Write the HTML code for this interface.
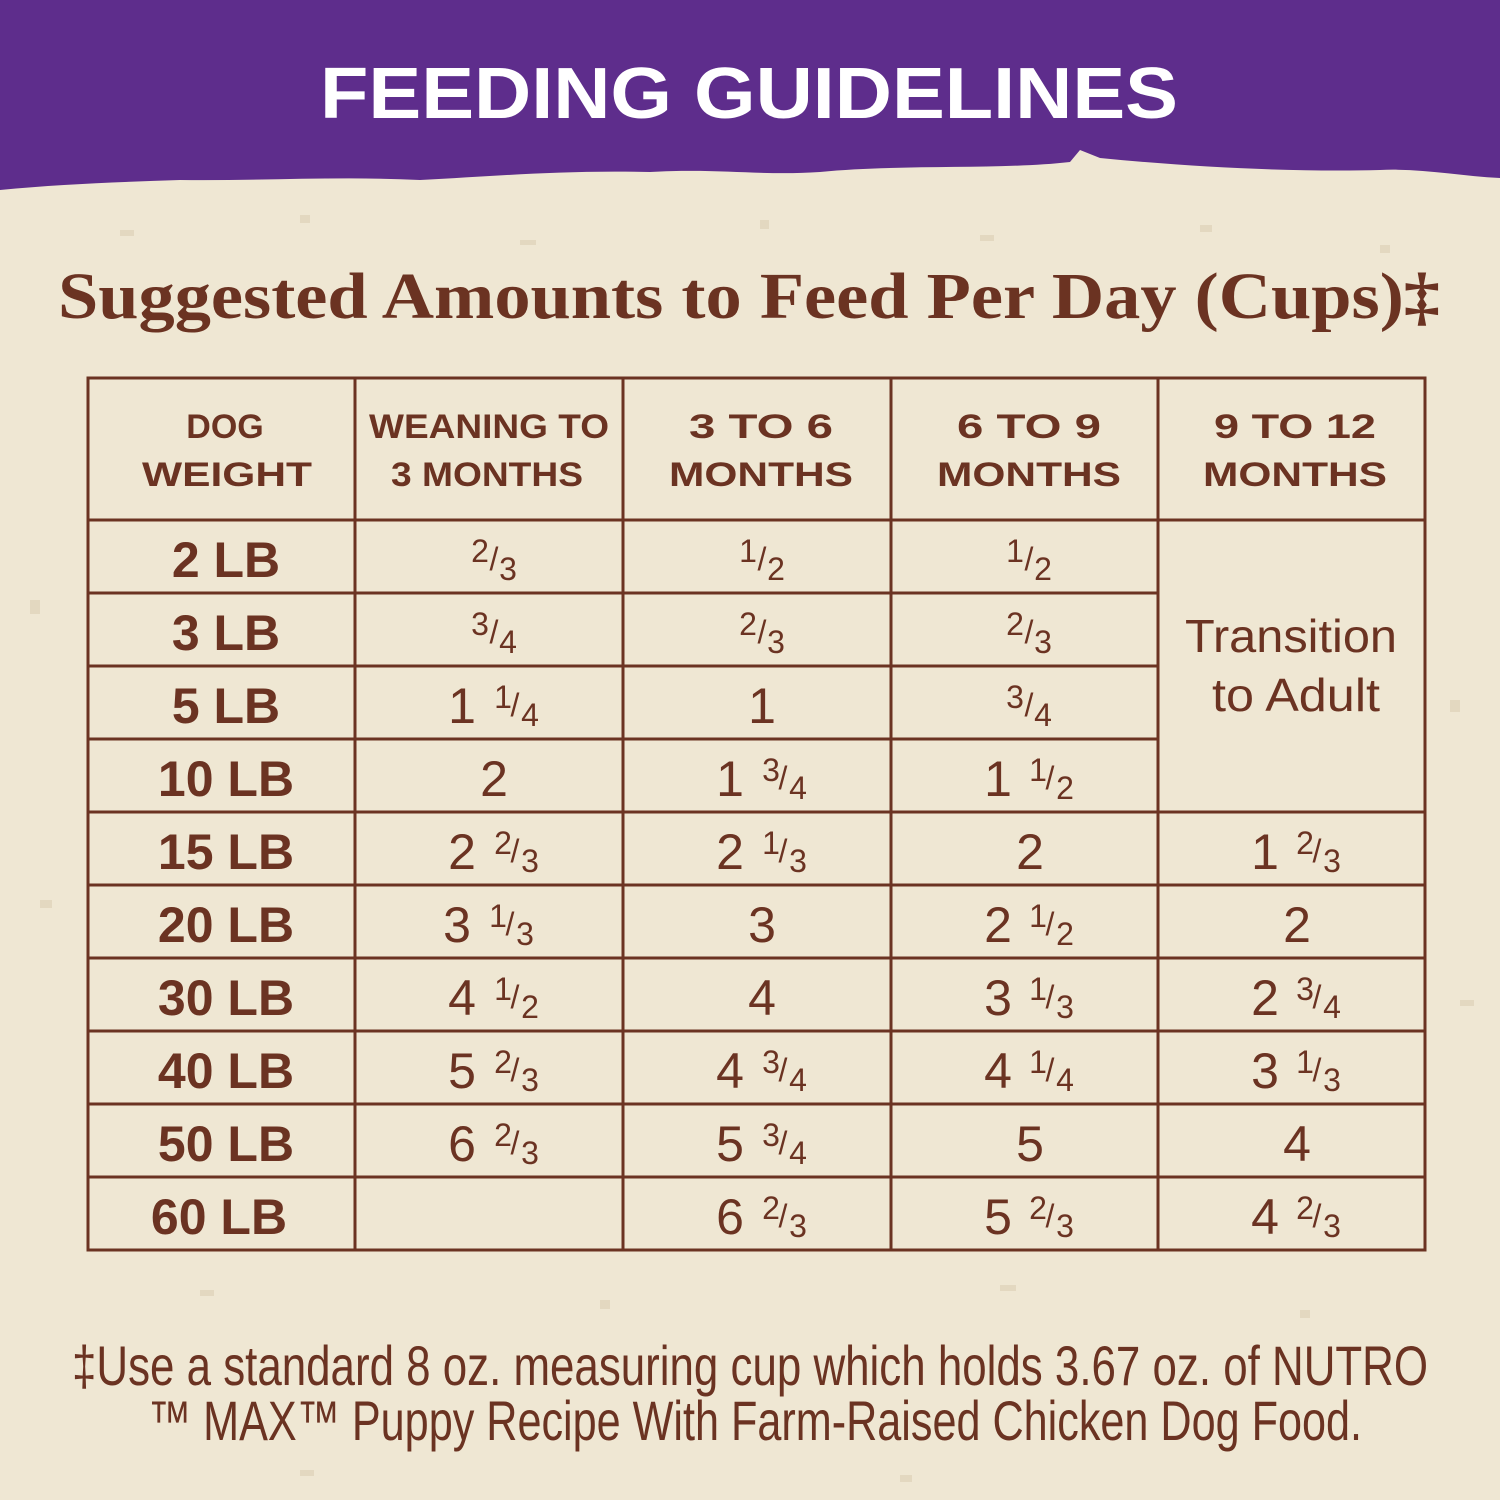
<!DOCTYPE html>
<html><head><meta charset="utf-8"><style>
html,body{margin:0;padding:0;background:#efe7d3;}
svg{display:block;}
</style></head><body>
<svg width="1500" height="1500" viewBox="0 0 1500 1500" xmlns="http://www.w3.org/2000/svg">
<rect width="1500" height="1500" fill="#efe7d3"/>
<g fill="#e3d8c0">
<rect x="120" y="230" width="14" height="6"/><rect x="300" y="215" width="10" height="8"/><rect x="520" y="240" width="16" height="5"/><rect x="760" y="220" width="9" height="9"/><rect x="980" y="235" width="14" height="6"/><rect x="1200" y="225" width="12" height="7"/><rect x="1380" y="245" width="10" height="8"/>
<rect x="30" y="600" width="10" height="14"/><rect x="40" y="900" width="12" height="8"/><rect x="1450" y="700" width="10" height="12"/><rect x="1460" y="1000" width="14" height="6"/><rect x="200" y="1290" width="14" height="6"/><rect x="600" y="1300" width="10" height="9"/><rect x="1000" y="1285" width="16" height="6"/><rect x="1300" y="1310" width="10" height="8"/><rect x="300" y="1470" width="14" height="6"/><rect x="900" y="1475" width="12" height="7"/>
</g>
<path d="M0 0 H1500 V178 C1460 176 1420 168 1380 170 C1300 172 1200 168 1100 158 L1080 150 L1070 162 C1000 170 900 164 820 172 C760 176 720 168 650 172 C560 170 500 176 420 180 C340 176 260 181 180 180 C120 182 60 184 0 190 Z" fill="#5e2d8c"/>
<text x="749" y="118" text-anchor="middle" font-family="Liberation Sans, sans-serif" font-weight="bold" font-size="72" fill="#ffffff" textLength="858" lengthAdjust="spacingAndGlyphs">FEEDING GUIDELINES</text>
<text x="58" y="318" font-family="Liberation Serif, serif" font-weight="bold" font-size="66" fill="#6b3322" textLength="1382" lengthAdjust="spacingAndGlyphs">Suggested Amounts to Feed Per Day (Cups)‡</text>

<g stroke="#6b3322" stroke-width="3" fill="none">
<rect x="88" y="378" width="1337" height="872"/>
<line x1="355" y1="378" x2="355" y2="1250"/>
<line x1="623" y1="378" x2="623" y2="1250"/>
<line x1="891" y1="378" x2="891" y2="1250"/>
<line x1="1158" y1="378" x2="1158" y2="1250"/>
<line x1="88" y1="520" x2="1425" y2="520"/>
<line x1="88" y1="593" x2="1158" y2="593"/>
<line x1="88" y1="666" x2="1158" y2="666"/>
<line x1="88" y1="739" x2="1158" y2="739"/>
<line x1="88" y1="812" x2="1425" y2="812"/>
<line x1="88" y1="885" x2="1425" y2="885"/>
<line x1="88" y1="958" x2="1425" y2="958"/>
<line x1="88" y1="1031" x2="1425" y2="1031"/>
<line x1="88" y1="1104" x2="1425" y2="1104"/>
<line x1="88" y1="1177" x2="1425" y2="1177"/>
</g>

<g font-family="Liberation Sans, sans-serif" font-weight="bold" font-size="34" fill="#6b3322" text-anchor="middle">
<text x="225" y="438">DOG</text><text x="227" y="486" textLength="170" lengthAdjust="spacingAndGlyphs">WEIGHT</text>
<text x="489" y="438" textLength="240" lengthAdjust="spacingAndGlyphs">WEANING TO</text><text x="487" y="486" textLength="192" lengthAdjust="spacingAndGlyphs">3 MONTHS</text>
<text x="761" y="438" textLength="144" lengthAdjust="spacingAndGlyphs">3 TO 6</text><text x="761" y="486" textLength="184" lengthAdjust="spacingAndGlyphs">MONTHS</text>
<text x="1029" y="438" textLength="144" lengthAdjust="spacingAndGlyphs">6 TO 9</text><text x="1029" y="486" textLength="184" lengthAdjust="spacingAndGlyphs">MONTHS</text>
<text x="1295" y="438" textLength="162" lengthAdjust="spacingAndGlyphs">9 TO 12</text><text x="1295" y="486" textLength="184" lengthAdjust="spacingAndGlyphs">MONTHS</text>
</g>

<g font-family="Liberation Sans, sans-serif" font-weight="bold" font-size="50" fill="#6b3322" text-anchor="middle">
<text x="226" y="577">2 LB</text><text x="226" y="650">3 LB</text><text x="226" y="723">5 LB</text><text x="226" y="796">10 LB</text><text x="226" y="869">15 LB</text><text x="226" y="942">20 LB</text><text x="226" y="1015">30 LB</text><text x="226" y="1088">40 LB</text><text x="226" y="1161">50 LB</text><text x="219" y="1234">60 LB</text>
</g>

<g font-family="Liberation Sans, sans-serif" fill="#6b3322" text-anchor="middle">
<!-- whole numbers size 50; fractions size 32 -->
<g font-size="50">
<text x="462" y="723">1</text><text x="494" y="796">2</text><text x="462" y="869">2</text><text x="457" y="942">3</text><text x="462" y="1015">4</text><text x="462" y="1088">5</text><text x="462" y="1161">6</text>
<text x="762" y="723">1</text><text x="730" y="796">1</text><text x="730" y="869">2</text><text x="762" y="942">3</text><text x="762" y="1015">4</text><text x="730" y="1088">4</text><text x="730" y="1161">5</text><text x="730" y="1234">6</text>
<text x="998" y="796">1</text><text x="1030" y="869">2</text><text x="998" y="942">2</text><text x="998" y="1015">3</text><text x="998" y="1088">4</text><text x="1030" y="1161">5</text><text x="998" y="1234">5</text>
<text x="1265" y="869">1</text><text x="1297" y="942">2</text><text x="1265" y="1015">2</text><text x="1265" y="1088">3</text><text x="1297" y="1161">4</text><text x="1265" y="1234">4</text>
</g>
<g font-size="32">
<!-- pure fractions -->
<text x="480" y="562">2</text><text x="494" y="570">/</text><text x="508" y="580">3</text>
<text x="748" y="562">1</text><text x="762" y="570">/</text><text x="776" y="580">2</text>
<text x="1015" y="562">1</text><text x="1029" y="570">/</text><text x="1043" y="580">2</text>
<text x="480" y="635">3</text><text x="494" y="643">/</text><text x="508" y="653">4</text>
<text x="748" y="635">2</text><text x="762" y="643">/</text><text x="776" y="653">3</text>
<text x="1015" y="635">2</text><text x="1029" y="643">/</text><text x="1043" y="653">3</text>
<text x="1015" y="708">3</text><text x="1029" y="716">/</text><text x="1043" y="726">4</text>
<!-- mixed fractions: num cx+14, slash cx+26, den cx+41 -->
<text x="503" y="708">1</text><text x="515" y="716">/</text><text x="530" y="726">4</text>
<text x="771" y="781">3</text><text x="783" y="789">/</text><text x="798" y="799">4</text>
<text x="1038" y="781">1</text><text x="1050" y="789">/</text><text x="1065" y="799">2</text>
<text x="503" y="854">2</text><text x="515" y="862">/</text><text x="530" y="872">3</text>
<text x="771" y="854">1</text><text x="783" y="862">/</text><text x="798" y="872">3</text>
<text x="1305" y="854">2</text><text x="1317" y="862">/</text><text x="1332" y="872">3</text>
<text x="498" y="927">1</text><text x="510" y="935">/</text><text x="525" y="945">3</text>
<text x="1038" y="927">1</text><text x="1050" y="935">/</text><text x="1065" y="945">2</text>
<text x="503" y="1000">1</text><text x="515" y="1008">/</text><text x="530" y="1018">2</text>
<text x="1038" y="1000">1</text><text x="1050" y="1008">/</text><text x="1065" y="1018">3</text>
<text x="1305" y="1000">3</text><text x="1317" y="1008">/</text><text x="1332" y="1018">4</text>
<text x="503" y="1073">2</text><text x="515" y="1081">/</text><text x="530" y="1091">3</text>
<text x="771" y="1073">3</text><text x="783" y="1081">/</text><text x="798" y="1091">4</text>
<text x="1038" y="1073">1</text><text x="1050" y="1081">/</text><text x="1065" y="1091">4</text>
<text x="1305" y="1073">1</text><text x="1317" y="1081">/</text><text x="1332" y="1091">3</text>
<text x="503" y="1146">2</text><text x="515" y="1154">/</text><text x="530" y="1164">3</text>
<text x="771" y="1146">3</text><text x="783" y="1154">/</text><text x="798" y="1164">4</text>
<text x="771" y="1219">2</text><text x="783" y="1227">/</text><text x="798" y="1237">3</text>
<text x="1038" y="1219">2</text><text x="1050" y="1227">/</text><text x="1065" y="1237">3</text>
<text x="1305" y="1219">2</text><text x="1317" y="1227">/</text><text x="1332" y="1237">3</text>
</g>
<g font-size="46">
<text x="1291" y="652" textLength="212" lengthAdjust="spacingAndGlyphs">Transition</text>
<text x="1296" y="711" textLength="168" lengthAdjust="spacingAndGlyphs">to Adult</text>
</g>
</g>

<g font-family="Liberation Sans Narrow, Liberation Sans, sans-serif" font-size="56" fill="#6b3322">
<text x="72" y="1385" textLength="1356" lengthAdjust="spacingAndGlyphs">‡Use a standard 8 oz. measuring cup which holds 3.67 oz. of NUTRO</text>
<text x="148" y="1440" textLength="1214" lengthAdjust="spacingAndGlyphs">™ MAX™ Puppy Recipe With Farm-Raised Chicken Dog Food.</text>
</g>
</svg>
</body></html>
